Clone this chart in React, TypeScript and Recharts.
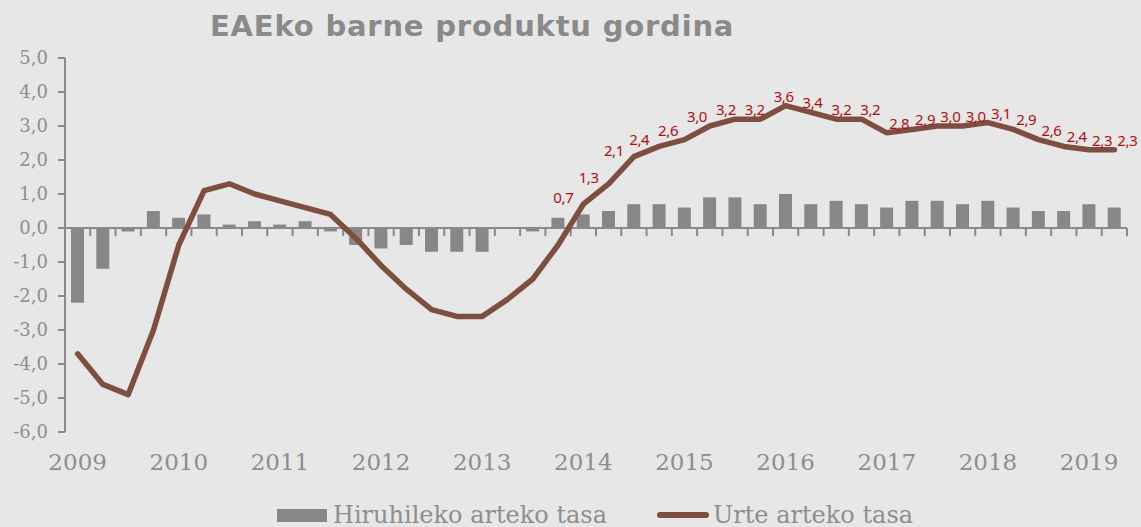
import {
  ComposedChart,
  Bar,
  Line,
  XAxis,
  YAxis,
  ReferenceLine,
  Legend,
} from "recharts";

const years = [2009, 2010, 2011, 2012, 2013, 2014, 2015, 2016, 2017, 2018, 2019];

// Hiruhileko arteko tasa (quarter-on-quarter), 2009T1 - 2019T2
const quarterlyRate = [
  -2.2, -1.2, -0.1, 0.5,
  0.3, 0.4, 0.1, 0.2,
  0.1, 0.2, -0.1, -0.5,
  -0.6, -0.5, -0.7, -0.7,
  -0.7, 0.0, -0.1, 0.3,
  0.4, 0.5, 0.7, 0.7,
  0.6, 0.9, 0.9, 0.7,
  1.0, 0.7, 0.8, 0.7,
  0.6, 0.8, 0.8, 0.7,
  0.8, 0.6, 0.5, 0.5,
  0.7, 0.6,
];

// Urte arteko tasa (year-on-year)
const annualRate = [
  -3.7, -4.6, -4.9, -3.0,
  -0.5, 1.1, 1.3, 1.0,
  0.8, 0.6, 0.4, -0.3,
  -1.1, -1.8, -2.4, -2.6,
  -2.6, -2.1, -1.5, -0.5,
  0.7, 1.3, 2.1, 2.4,
  2.6, 3.0, 3.2, 3.2,
  3.6, 3.4, 3.2, 3.2,
  2.8, 2.9, 3.0, 3.0,
  3.1, 2.9, 2.6, 2.4,
  2.3, 2.3,
];

// data labels are shown from 2014 on
const labelsFrom = 20;

const yTicks = [-6, -5, -4, -3, -2, -1, 0, 1, 2, 3, 4, 5];

const data = quarterlyRate.map((q, i) => ({
  i,
  year: years[Math.floor(i / 4)],
  q,
  a: annualRate[i],
}));

const yearTicks = years.map((_, k) => k * 4);
const boundaries = [...quarterlyRate.map((_, i) => i - 0.5), quarterlyRate.length - 0.5];

const comma = (v: number) => v.toFixed(1).replace(".", ",");

const BAR = "#878787";
const LINE = "#7e4e40";
const TEXT = "#8e8e8e";
const serif = "'DejaVu Serif', serif";

function PointLabel(props: any) {
  const { x, y, value, index } = props;
  if (index < labelsFrom) return null;
  // labels drift from the left of the point to its right along the series
  const dx = Math.max(-20, Math.min(13, -20 + (index - 23) * 3.6));
  const dy = index < 24 ? -7 : -10;
  return (
    <text
      x={x + dx}
      y={y + dy}
      textAnchor="middle"
      dominantBaseline="central"
      fill="#b00e12"
      fontSize={15}
      letterSpacing={-0.4}
      fontFamily="'Noto Sans', sans-serif"
    >
      {comma(value)}
    </text>
  );
}

function LegendBox() {
  return (
    <div
      style={{
        display: "flex",
        alignItems: "center",
        marginLeft: 277,
        fontFamily: serif,
        fontSize: 24,
        color: TEXT,
        height: 24,
      }}
    >
      <span style={{ width: 50, height: 13, background: BAR, marginRight: 6 }} />
      <span>Hiruhileko arteko tasa</span>
      <span
        style={{
          width: 52,
          height: 6,
          borderRadius: 3,
          background: LINE,
          marginLeft: 50,
          marginRight: 4,
        }}
      />
      <span>Urte arteko tasa</span>
    </div>
  );
}

export default function App() {
  return (
    <div
      style={{
        position: "absolute",
        left: 0,
        top: 0,
        width: 1141,
        height: 527,
        background: "#e7e7e7",
      }}
    >
      <div
        style={{
          position: "absolute",
          left: 210,
          top: 9,
          fontFamily: "'DejaVu Sans', sans-serif",
          fontWeight: 700,
          fontSize: 29,
          letterSpacing: 0.8,
          color: "#8a8a8a",
          whiteSpace: "nowrap",
        }}
      >
        EAEko barne produktu gordina
      </div>
      <ComposedChart
        width={1141}
        height={527}
        data={data}
        margin={{ top: 58, right: 14, left: 0, bottom: 0 }}
      >
        <XAxis
          type="number"
          dataKey="i"
          domain={[-0.5, quarterlyRate.length - 0.5]}
          ticks={yearTicks}
          interval={0}
          tickFormatter={(v: number) => String(years[v / 4])}
          axisLine={false}
          tickLine={false}
          tickSize={0}
          tickMargin={22}
          height={71}
          tick={{ fill: TEXT, fontSize: 23, fontFamily: serif }}
        />
        <YAxis
          domain={[-6, 5]}
          ticks={yTicks}
          interval={0}
          width={65}
          tickFormatter={comma}
          axisLine={{ stroke: "#8a8a8a", strokeWidth: 2 }}
          tickLine={{ stroke: "#8a8a8a", strokeWidth: 2 }}
          tickSize={7}
          tickMargin={10}
          tick={{ fill: TEXT, fontSize: 18, fontFamily: serif }}
        />
        <ReferenceLine y={0} stroke="#8a8a8a" strokeWidth={2} />
        {boundaries.map((b) => (
          <ReferenceLine
            key={b}
            segment={[
              { x: b, y: 0 },
              { x: b, y: -0.24 },
            ]}
            stroke="#8a8a8a"
            strokeWidth={2}
          />
        ))}
        <Bar dataKey="q" fill={BAR} barSize={13} isAnimationActive={false} />
        <Line
          type="linear"
          dataKey="a"
          stroke={LINE}
          strokeWidth={5.5}
          strokeLinecap="round"
          strokeLinejoin="round"
          dot={false}
          activeDot={false}
          label={(p: any) => <PointLabel {...p} />}
          isAnimationActive={false}
        />
        <Legend
          verticalAlign="bottom"
          height={24}
          content={() => <LegendBox />}
          wrapperStyle={{ left: 0, width: 1141 }}
        />
      </ComposedChart>
    </div>
  );
}
